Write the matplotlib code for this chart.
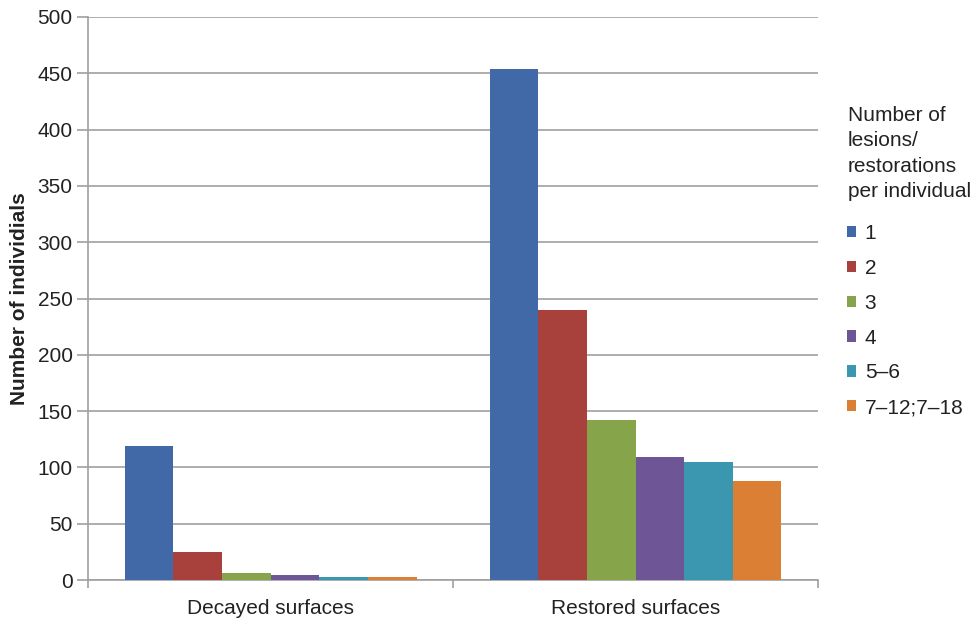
import matplotlib
matplotlib.use("Agg")
import matplotlib.pyplot as plt
import numpy as np

plt.rcParams['font.family'] = ['Liberation Sans', 'DejaVu Sans']

categories = ["Decayed surfaces", "Restored surfaces"]
series_labels = ["1", "2", "3", "4", "5\u20136", "7\u201312;7\u201318"]
values = {
    "1": [119, 454],
    "2": [25, 240],
    "3": [6, 142],
    "4": [4, 109],
    "5\u20136": [3, 105],
    "7\u201312;7\u201318": [3, 88],
}
colors = ["#4169A8", "#A8403C", "#86A44A", "#6E5595", "#3B97AF", "#DA7F34"]
yticks = [0, 50, 100, 150, 200, 250, 300, 350, 400, 450, 500]

FS = 15
fig = plt.figure(figsize=(9.75, 6.21), dpi=100)
ax = fig.add_axes([88 / 975, 1 - 580 / 621, (818 - 88) / 975, (580 - 17) / 621])

n = len(series_labels)
group_w = 0.8
bw = group_w / n
x = np.arange(len(categories))
handles = []
for i, lab in enumerate(series_labels):
    h = ax.bar(x - group_w / 2 + bw * (i + 0.5), values[lab], width=bw,
               color=colors[i], label=lab, zorder=3, linewidth=0)
    handles.append(h)

ax.set_xlim(-0.5, 1.5)
ax.set_ylim(0, 500)
ax.set_yticks(yticks)
ax.set_yticklabels([str(v) for v in yticks], fontsize=FS, color="#222222")
ax.yaxis.grid(True, color="#A0A0A0", linewidth=1.2, zorder=0)
ax.set_axisbelow(True)

# category labels centred, tick marks at category boundaries
ax.set_xticks([-0.5, 0.5, 1.5])
ax.set_xticklabels([])
ax.set_xticks(x, minor=True)
ax.set_xticklabels(categories, minor=True, fontsize=FS, color="#222222")
ax.tick_params(axis="x", which="minor", length=0, pad=14)
ax.tick_params(axis="x", which="major", length=6, color="#A0A0A0", width=1.2)
ax.tick_params(axis="y", length=8, color="#A0A0A0", width=1.2, pad=3)

for side in ("top", "right"):
    ax.spines[side].set_visible(False)
for side in ("left", "bottom"):
    ax.spines[side].set_color("#A0A0A0")
    ax.spines[side].set_linewidth(1.2)

ax.set_ylabel("Number of individials", fontsize=FS, fontweight="bold",
              color="#222222", labelpad=6)

fig.text(848 / 975, 1 - 106 / 621, "Number of\nlesions/\nrestorations\nper individual",
         fontsize=FS, va="top", ha="left", linespacing=1.42, color="#222222")
leg = fig.legend(handles=handles, labels=series_labels, loc="upper left",
                 bbox_to_anchor=(847 / 975, 1 - 224 / 621), frameon=False,
                 fontsize=FS, handlelength=0.45, handleheight=0.45,
                 handletextpad=0.4, labelspacing=0.76, borderaxespad=0,
                 borderpad=0)
for t in leg.get_texts():
    t.set_color("#222222")

fig.savefig("out.png", dpi=100)
